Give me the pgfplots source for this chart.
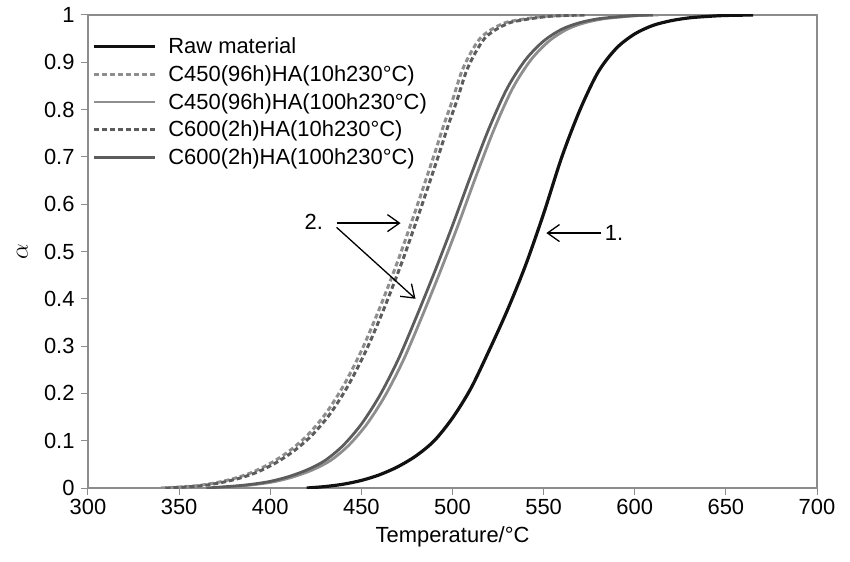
\documentclass[border=0pt]{standalone}
\usepackage{fontspec}
\setmainfont{Liberation Sans}
\usepackage{pgfplots}
\pgfplotsset{compat=1.18}
\usetikzlibrary{arrows.meta}
\definecolor{axgray}{HTML}{8C8C8C}
\definecolor{rawc}{HTML}{111111}
\definecolor{lgray}{HTML}{8E8E8E}
\definecolor{dgray}{HTML}{5C5C5C}
\newcommand{\fs}{\fontsize{22}{26}\selectfont}
\begin{document}
\begin{tikzpicture}
\begin{axis}[name=ax, scale only axis, width=729bp, height=473bp,
  xmin=300, xmax=700, ymin=0, ymax=1,
  xtick={300,350,400,450,500,550,600,650,700},
  ytick={0,0.1,0.2,0.3,0.4,0.5,0.6,0.7,0.8,0.9,1},
  yticklabel style={/pgf/number format/fixed,/pgf/number format/precision=1, xshift=-3bp},
  xticklabel style={yshift=-1bp},
  /pgf/number format/assume math mode=true,
  ticklabel style={font=\fs},
  tick align=outside, tick pos=left, major tick length=7bp,
  axis line style={draw=axgray, line width=1.1bp},
  tick style={draw=axgray, line width=1bp},
  xlabel={Temperature/°C}, ylabel={$\alpha$},
  xlabel style={font=\fs, at={(axis description cs:0.5,-0.104)}, anchor=center},
  ylabel style={font=\fontsize{30}{34}\selectfont, at={(axis description cs:-0.09,0.5)}, anchor=center},
  legend cell align=left,
  legend style={draw=none, fill=none, font=\fs, at={(0.0055,0.957)}, anchor=north west,
    inner sep=0pt, row sep=6.5bp},
  legend image code/.code={\draw[#1] (0bp,0bp) -- (61bp,0bp); \path (71bp,0bp);},
]
\addplot[rawc, line width=3.2bp, smooth] coordinates {
(420,0) (430,0.003) (440,0.008) (450,0.016) (460,0.028) (470,0.045) (480,0.068) (490,0.10) (500,0.148) (510,0.21) (520,0.29) (530,0.375) (540,0.47) (550,0.58) (560,0.70) (570,0.80) (580,0.88) (590,0.93) (600,0.96) (610,0.978) (620,0.988) (630,0.994) (640,0.997) (650,0.999) (665,1)};
\addlegendentry{Raw material}
\addplot[lgray, line width=3bp, dash pattern=on 5bp off 3bp, smooth] coordinates {
(340,0) (350,0.002) (360,0.005) (370,0.011) (380,0.02) (390,0.033) (400,0.052) (410,0.077) (420,0.11) (430,0.155) (440,0.215) (450,0.29) (460,0.38) (470,0.48) (480,0.59) (490,0.705) (495,0.765) (500,0.82) (505,0.88) (510,0.92) (515,0.95) (520,0.966) (525,0.977) (530,0.985) (540,0.992) (550,0.997) (560,0.999) (570,1)};
\addlegendentry{C450(96h)HA(10h230°C)}
\addplot[lgray, line width=2.8bp, smooth] coordinates {
(368,0) (383,0.004) (393,0.008) (403,0.014) (413,0.024) (423,0.038) (433,0.058) (443,0.09) (453,0.135) (463,0.195) (473,0.27) (483,0.36) (493,0.455) (503,0.555) (513,0.66) (523,0.76) (533,0.845) (543,0.905) (553,0.945) (563,0.97) (573,0.984) (583,0.992) (593,0.996) (603,0.999) (613,1)};
\addlegendentry{C450(96h)HA(100h230°C)}
\addplot[dgray, line width=3bp, dash pattern=on 5bp off 3bp, smooth] coordinates {
(342.5,0) (352.5,0.002) (362.5,0.005) (372.5,0.011) (382.5,0.02) (392.5,0.033) (402.5,0.052) (412.5,0.077) (422.5,0.11) (432.5,0.155) (442.5,0.215) (452.5,0.29) (462.5,0.38) (472.5,0.48) (482.5,0.59) (492.5,0.705) (497.5,0.765) (502.5,0.82) (507.5,0.88) (512.5,0.92) (517.5,0.95) (522.5,0.966) (527.5,0.977) (532.5,0.985) (542.5,0.992) (552.5,0.997) (562.5,0.999) (572.5,1)};
\addlegendentry{C600(2h)HA(10h230°C)}
\addplot[dgray, line width=2.8bp, smooth] coordinates {
(365,0) (380,0.004) (390,0.008) (400,0.014) (410,0.024) (420,0.038) (430,0.058) (440,0.09) (450,0.135) (460,0.195) (470,0.27) (480,0.36) (490,0.455) (500,0.555) (510,0.66) (520,0.76) (530,0.845) (540,0.905) (550,0.945) (560,0.97) (570,0.984) (580,0.992) (590,0.996) (600,0.999) (610,1)};
\addlegendentry{C600(2h)HA(100h230°C)}
\draw[line width=1.3bp, -{Straight Barb[length=12bp,width=17bp]}] (axis cs:436.4,0.560) -- (axis cs:471.5,0.560);
\draw[line width=1.3bp, -{Straight Barb[length=12bp,width=17bp]}] (axis cs:436.4,0.551) -- (axis cs:479.7,0.400);
\draw[line width=1.3bp, -{Straight Barb[length=12bp,width=17bp]}] (axis cs:581.4,0.539) -- (axis cs:551.5,0.539);
\node[font=\fs, anchor=east, inner sep=0pt] at (axis cs:429,0.562) {2.};
\node[font=\fs, anchor=west, inner sep=0pt] at (axis cs:583.5,0.539) {1.};
\end{axis}
\path ([xshift=-88bp,yshift=-74bp]ax.south west) rectangle ([xshift=33bp,yshift=15bp]ax.north east);
\end{tikzpicture}
\end{document}
